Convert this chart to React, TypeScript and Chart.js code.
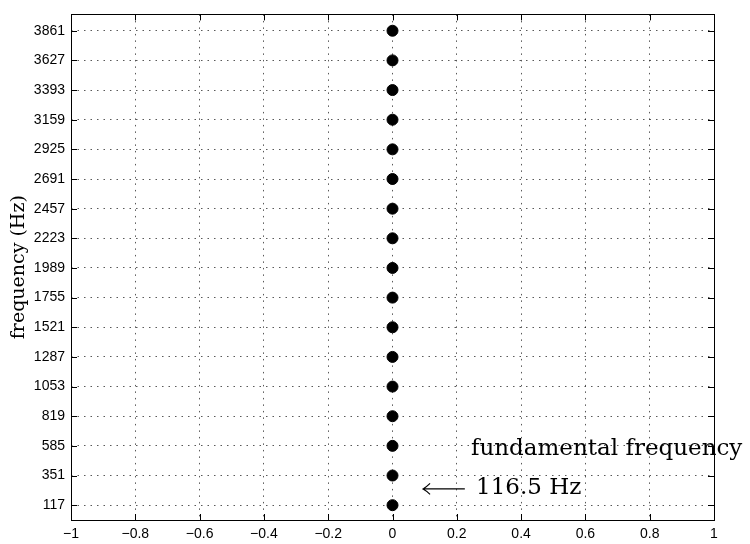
import React, { useEffect, useRef } from 'react';
import { Chart, registerables } from 'chart.js';

Chart.register(...registerables);

const harmonicFrequencies = [117, 351, 585, 819, 1053, 1287, 1521, 1755, 1989, 2223, 2457, 2691, 2925, 3159, 3393, 3627, 3861];
const harmonicXPositions = [0, 0, 0, 0, 0, 0, 0, 0, 0, 0, 0, 0, 0, 0, 0, 0, 0];
const yTickValues = [117, 351, 585, 819, 1053, 1287, 1521, 1755, 1989, 2223, 2457, 2691, 2925, 3159, 3393, 3627, 3861];
const xTickValues = [-1, -0.8, -0.6, -0.4, -0.2, 0, 0.2, 0.4, 0.6, 0.8, 1];
const yAxisTitle = 'frequency (Hz)';
const annotationLine1 = 'fundamental frequency';
const annotationLine2 = '116.5 Hz';

const fmtX = (v: number) => {
  if (Math.abs(v) < 1e-9) return '0';
  const s = String(Math.round(Math.abs(v) * 10) / 10);
  return (v < 0 ? '\u2212' : '') + s;
};

const framePlugin = {
  id: 'frame',
  afterDraw(chart: any) {
    const { ctx, chartArea, scales } = chart;
    const { left, right, top, bottom } = chartArea;
    const x = scales.x;
    const y = scales.y;
    ctx.save();
    ctx.strokeStyle = '#000';
    ctx.lineWidth = 1;
    ctx.strokeRect(Math.round(left) + 0.5, Math.round(top) + 0.5, Math.round(right - left), Math.round(bottom - top));
    ctx.beginPath();
    const tl = 6;
    yTickValues.forEach((v) => {
      const py = Math.round(y.getPixelForValue(v)) + 0.5;
      ctx.moveTo(left, py);
      ctx.lineTo(left + tl, py);
      ctx.moveTo(right, py);
      ctx.lineTo(right - tl, py);
    });
    xTickValues.forEach((v) => {
      const px = Math.round(x.getPixelForValue(v)) + 0.5;
      ctx.moveTo(px, bottom);
      ctx.lineTo(px, bottom - tl);
      ctx.moveTo(px, top);
      ctx.lineTo(px, top + tl);
    });
    ctx.stroke();

    // annotation
    ctx.fillStyle = '#000';
    ctx.font = '23px "DejaVu Serif"';
    ctx.textBaseline = 'middle';
    ctx.textAlign = 'left';
    const tx = x.getPixelForValue(0.244);
    ctx.fillText(annotationLine1, tx, y.getPixelForValue(561));
    const y2 = y.getPixelForValue(249);
    ctx.fillText(annotationLine2, x.getPixelForValue(0.26), y2);
    // arrow
    const ax0 = x.getPixelForValue(0.095);
    const ax1 = x.getPixelForValue(0.225);
    ctx.beginPath();
    ctx.lineWidth = 1.2;
    ctx.moveTo(ax0, y2 + 0.5);
    ctx.lineTo(ax1, y2 + 0.5);
    ctx.moveTo(ax0 + 7, y2 - 5);
    ctx.quadraticCurveTo(ax0 + 3, y2 - 1, ax0, y2 + 0.5);
    ctx.quadraticCurveTo(ax0 + 3, y2 + 2, ax0 + 7, y2 + 6);
    ctx.stroke();
    ctx.restore();
  },
};

export default function App() {
  const ref = useRef<HTMLCanvasElement | null>(null);
  useEffect(() => {
    if (!ref.current) return;
    const gridCommon = {
      color: 'rgba(0,0,0,0.65)',
      lineWidth: 1,
      drawTicks: false,
    };
    const chart = new Chart(ref.current, {
      type: 'scatter',
      data: {
        datasets: [
          {
            data: harmonicXPositions.map((xv, i) => ({ x: xv, y: harmonicFrequencies[i] })),
            backgroundColor: '#000',
            borderColor: '#000',
            pointRadius: 5.5,
            pointHoverRadius: 5.5,
          },
        ],
      },
      options: {
        animation: false,
        responsive: false,
        maintainAspectRatio: false,
        layout: { padding: { left: 0, top: 8, right: 36, bottom: 0 } },
        plugins: { legend: { display: false }, tooltip: { enabled: false } },
        scales: {
          x: {
            type: 'linear',
            min: -1,
            max: 1,
            afterBuildTicks: (s: any) => {
              s.ticks = xTickValues.map((v) => ({ value: v }));
            },
            afterFit: (s: any) => {
              s.height = 24;
            },
            ticks: {
              padding: 6,
              color: '#000',
              font: { family: '"Liberation Sans", Arial, sans-serif', size: 14 },
              callback: (v: any) => fmtX(Number(v)),
              maxRotation: 0,
              autoSkip: false,
            },
            grid: gridCommon,
            border: { display: false, dash: [1.5, 5] },
          },
          y: {
            type: 'linear',
            min: 0,
            max: 3990,
            afterBuildTicks: (s: any) => {
              s.ticks = yTickValues.map((v) => ({ value: v }));
            },
            afterFit: (s: any) => {
              s.width = 71;
            },
            ticks: {
              padding: 6,
              color: '#000',
              font: { family: '"Liberation Sans", Arial, sans-serif', size: 14 },
              callback: (v: any) => String(v),
              autoSkip: false,
            },
            grid: gridCommon,
            border: { display: false, dash: [1.5, 5] },
            title: {
              display: true,
              text: yAxisTitle,
              color: '#000',
              font: { family: '"DejaVu Serif", serif', size: 19 },
              padding: { top: 8, bottom: 0 },
            },
          },
        },
      },
      plugins: [framePlugin],
    });
    return () => chart.destroy();
  }, []);
  return (
    <div style={{ position: 'fixed', left: 0, top: 0, width: 750, height: 544, background: '#fff' }}>
      <canvas ref={ref} width={750} height={544} style={{ width: 750, height: 544 }} />
    </div>
  );
}
